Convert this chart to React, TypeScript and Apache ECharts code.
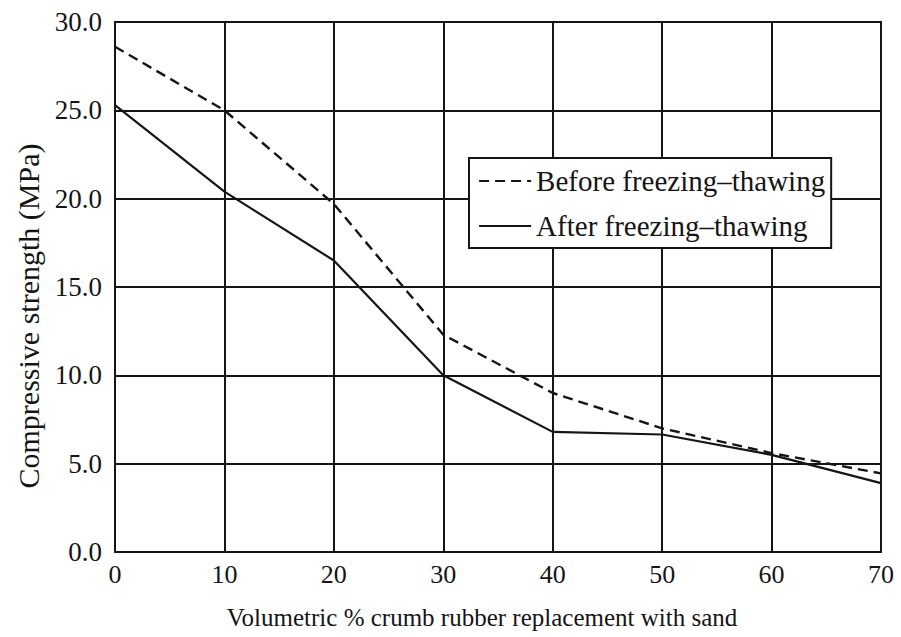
import React, { useEffect, useRef } from "react";
import * as echarts from "echarts";

const xValues = [0, 10, 20, 30, 40, 50, 60, 70];
const beforeValues = [28.6, 25.0, 19.7, 12.3, 9.0, 7.0, 5.6, 4.45];
const afterValues = [25.3, 20.4, 16.5, 10.0, 6.8, 6.65, 5.5, 3.9];
const seriesNames = ["Before freezing\u2013thawing", "After freezing\u2013thawing"];
const xTitle = "Volumetric % crumb rubber replacement with sand";
const yTitle = "Compressive strength (MPa)";

const FONT = "'Liberation Serif', 'DejaVu Serif', serif";
const INK = "#151515";

export default function App() {
  const ref = useRef<HTMLDivElement>(null);
  useEffect(() => {
    if (!ref.current) return;
    const chart = echarts.init(ref.current, undefined, { renderer: "svg" });
    const pair = (ys: number[]) => xValues.map((x, i) => [x, ys[i]]);
    chart.setOption({
      animation: false,
      backgroundColor: "#ffffff",
      textStyle: { fontFamily: FONT },
      grid: {
        left: 115,
        top: 22,
        width: 766,
        height: 530,
        show: true,
        borderColor: INK,
        borderWidth: 2,
        backgroundColor: "transparent",
      },
      legend: {
        orient: "vertical",
        left: 469,
        top: 158,
        backgroundColor: "#ffffff",
        borderColor: INK,
        borderWidth: 2,
        padding: [7, 6, 6, 9],
        itemWidth: 52,
        itemHeight: 14,
        itemGap: 13,
        itemStyle: { opacity: 0 },
        lineStyle: { width: 2.2 },
        textStyle: { fontFamily: FONT, fontSize: 29, color: INK, lineHeight: 32 },
        data: seriesNames,
        z: 10,
      },
      xAxis: {
        type: "value",
        min: 0,
        max: 70,
        interval: 10,
        name: xTitle,
        nameLocation: "middle",
        nameGap: 53,
        nameTextStyle: { fontFamily: FONT, fontSize: 25, color: INK, padding: [0, 32, 0, 0] },
        axisLine: { show: true, lineStyle: { color: INK, width: 2 } },
        axisTick: { show: false },
        axisLabel: { fontFamily: FONT, fontSize: 26, color: INK, margin: 9 },
        splitLine: { show: true, lineStyle: { color: INK, width: 2 } },
      },
      yAxis: {
        type: "value",
        min: 0,
        max: 30,
        interval: 5,
        name: yTitle,
        nameLocation: "middle",
        nameGap: 71,
        nameTextStyle: { fontFamily: FONT, fontSize: 30, color: INK, padding: [0, 58, 0, 0] },
        axisLine: { show: true, lineStyle: { color: INK, width: 2 } },
        axisTick: { show: false },
        axisLabel: {
          fontFamily: FONT,
          fontSize: 27,
          color: INK,
          margin: 13,
          formatter: (v: number) => v.toFixed(1),
        },
        splitLine: { show: true, lineStyle: { color: INK, width: 2 } },
      },
      series: [
        {
          name: seriesNames[0],
          type: "line",
          data: pair(beforeValues),
          symbol: "none",
          lineStyle: { color: INK, width: 2.4, type: [10, 6] },
          itemStyle: { color: INK },
          z: 3,
        },
        {
          name: seriesNames[1],
          type: "line",
          data: pair(afterValues),
          symbol: "none",
          lineStyle: { color: INK, width: 2.2, type: "solid" },
          itemStyle: { color: INK },
          z: 3,
        },
      ],
    });
    return () => chart.dispose();
  }, []);
  return (
    <div
      ref={ref}
      style={{ position: "absolute", left: 0, top: 0, width: 901, height: 637 }}
    />
  );
}
